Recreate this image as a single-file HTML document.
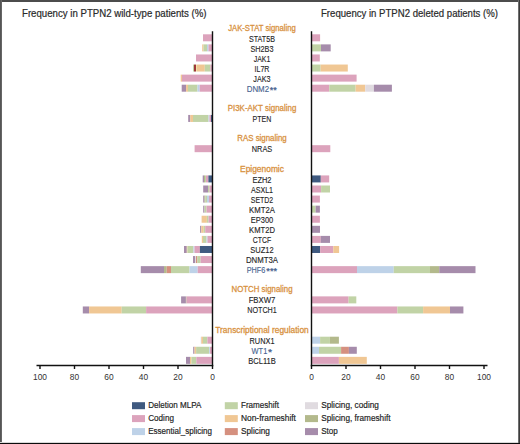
<!DOCTYPE html><html><head><meta charset="utf-8"><style>html,body{margin:0;padding:0;background:#fff;}svg{display:block;font-family:"Liberation Sans",sans-serif;}</style></head><body>
<svg width="520" height="444" viewBox="0 0 520 444">
<rect x="0" y="0" width="520" height="444" fill="#fff"/>
<rect x="203.00" y="34.30" width="9.50" height="7.00" fill="#dca3bc"/>
<rect x="202.20" y="44.38" width="1.30" height="7.00" fill="#f0c794"/>
<rect x="203.50" y="44.38" width="3.50" height="7.00" fill="#c1d3a6"/>
<rect x="207.00" y="44.38" width="1.50" height="7.00" fill="#bed2e8"/>
<rect x="208.50" y="44.38" width="4.00" height="7.00" fill="#dca3bc"/>
<rect x="196.00" y="54.46" width="16.50" height="7.00" fill="#dca3bc"/>
<rect x="193.00" y="64.54" width="1.00" height="7.00" fill="#c1d3a6"/>
<rect x="194.00" y="64.54" width="2.00" height="7.00" fill="#9e3838"/>
<rect x="196.00" y="64.54" width="1.00" height="7.00" fill="#f3e0a8"/>
<rect x="197.00" y="64.54" width="7.80" height="7.00" fill="#f0c794"/>
<rect x="204.80" y="64.54" width="5.70" height="7.00" fill="#c1d3a6"/>
<rect x="210.50" y="64.54" width="2.00" height="7.00" fill="#dca3bc"/>
<rect x="180.70" y="74.62" width="1.30" height="7.00" fill="#f0c794"/>
<rect x="182.00" y="74.62" width="30.50" height="7.00" fill="#dca3bc"/>
<rect x="181.70" y="84.70" width="4.40" height="7.00" fill="#a68cab"/>
<rect x="186.10" y="84.70" width="1.90" height="7.00" fill="#f0c794"/>
<rect x="188.00" y="84.70" width="9.50" height="7.00" fill="#c1d3a6"/>
<rect x="197.50" y="84.70" width="2.20" height="7.00" fill="#bed2e8"/>
<rect x="199.70" y="84.70" width="12.80" height="7.00" fill="#dca3bc"/>
<rect x="188.20" y="114.94" width="2.10" height="7.00" fill="#a68cab"/>
<rect x="190.30" y="114.94" width="2.70" height="7.00" fill="#f0c794"/>
<rect x="193.00" y="114.94" width="15.50" height="7.00" fill="#c1d3a6"/>
<rect x="208.50" y="114.94" width="1.00" height="7.00" fill="#bed2e8"/>
<rect x="209.50" y="114.94" width="1.50" height="7.00" fill="#dca3bc"/>
<rect x="211.00" y="114.94" width="1.50" height="7.00" fill="#3f5a80"/>
<rect x="194.60" y="145.18" width="17.90" height="7.00" fill="#dca3bc"/>
<rect x="202.70" y="175.42" width="1.30" height="7.00" fill="#a68cab"/>
<rect x="204.00" y="175.42" width="1.00" height="7.00" fill="#b3b98c"/>
<rect x="205.00" y="175.42" width="1.00" height="7.00" fill="#c1d3a6"/>
<rect x="206.00" y="175.42" width="2.40" height="7.00" fill="#dca3bc"/>
<rect x="208.40" y="175.42" width="4.10" height="7.00" fill="#3f5a80"/>
<rect x="203.20" y="185.50" width="4.80" height="7.00" fill="#a68cab"/>
<rect x="208.00" y="185.50" width="1.50" height="7.00" fill="#c1d3a6"/>
<rect x="209.50" y="185.50" width="3.00" height="7.00" fill="#dca3bc"/>
<rect x="203.20" y="195.58" width="1.30" height="7.00" fill="#a68cab"/>
<rect x="204.50" y="195.58" width="1.00" height="7.00" fill="#b3b98c"/>
<rect x="205.50" y="195.58" width="1.50" height="7.00" fill="#c1d3a6"/>
<rect x="207.00" y="195.58" width="2.00" height="7.00" fill="#bed2e8"/>
<rect x="209.00" y="195.58" width="3.50" height="7.00" fill="#dca3bc"/>
<rect x="203.20" y="205.66" width="1.30" height="7.00" fill="#a68cab"/>
<rect x="204.50" y="205.66" width="2.00" height="7.00" fill="#c1d3a6"/>
<rect x="206.50" y="205.66" width="6.00" height="7.00" fill="#dca3bc"/>
<rect x="201.60" y="215.74" width="5.30" height="7.00" fill="#f0c794"/>
<rect x="206.90" y="215.74" width="1.60" height="7.00" fill="#c1d3a6"/>
<rect x="208.50" y="215.74" width="4.00" height="7.00" fill="#dca3bc"/>
<rect x="200.10" y="225.82" width="1.20" height="7.00" fill="#a68cab"/>
<rect x="201.30" y="225.82" width="2.40" height="7.00" fill="#f0c794"/>
<rect x="203.70" y="225.82" width="1.50" height="7.00" fill="#c1d3a6"/>
<rect x="205.20" y="225.82" width="7.30" height="7.00" fill="#dca3bc"/>
<rect x="201.80" y="235.90" width="1.20" height="7.00" fill="#f0c794"/>
<rect x="203.00" y="235.90" width="3.50" height="7.00" fill="#c1d3a6"/>
<rect x="206.50" y="235.90" width="1.00" height="7.00" fill="#bed2e8"/>
<rect x="207.50" y="235.90" width="5.00" height="7.00" fill="#dca3bc"/>
<rect x="184.00" y="245.98" width="2.80" height="7.00" fill="#a68cab"/>
<rect x="186.80" y="245.98" width="0.70" height="7.00" fill="#f0c794"/>
<rect x="187.50" y="245.98" width="5.90" height="7.00" fill="#c1d3a6"/>
<rect x="193.40" y="245.98" width="1.10" height="7.00" fill="#bed2e8"/>
<rect x="194.50" y="245.98" width="5.40" height="7.00" fill="#dca3bc"/>
<rect x="199.90" y="245.98" width="12.60" height="7.00" fill="#3f5a80"/>
<rect x="193.00" y="256.06" width="2.00" height="7.00" fill="#a68cab"/>
<rect x="195.00" y="256.06" width="1.00" height="7.00" fill="#e0dbe0"/>
<rect x="196.00" y="256.06" width="1.30" height="7.00" fill="#d5907f"/>
<rect x="197.30" y="256.06" width="3.30" height="7.00" fill="#c1d3a6"/>
<rect x="200.60" y="256.06" width="11.90" height="7.00" fill="#dca3bc"/>
<rect x="140.80" y="266.14" width="23.20" height="7.00" fill="#a68cab"/>
<rect x="164.00" y="266.14" width="2.70" height="7.00" fill="#b3b98c"/>
<rect x="166.70" y="266.14" width="4.30" height="7.00" fill="#d5907f"/>
<rect x="171.00" y="266.14" width="18.50" height="7.00" fill="#c1d3a6"/>
<rect x="189.50" y="266.14" width="8.20" height="7.00" fill="#bed2e8"/>
<rect x="197.70" y="266.14" width="14.80" height="7.00" fill="#dca3bc"/>
<rect x="181.10" y="296.38" width="4.80" height="7.00" fill="#a68cab"/>
<rect x="185.90" y="296.38" width="0.60" height="7.00" fill="#b3b98c"/>
<rect x="186.50" y="296.38" width="26.00" height="7.00" fill="#dca3bc"/>
<rect x="82.80" y="306.46" width="6.30" height="7.00" fill="#a68cab"/>
<rect x="89.10" y="306.46" width="32.60" height="7.00" fill="#f0c794"/>
<rect x="121.70" y="306.46" width="24.40" height="7.00" fill="#c1d3a6"/>
<rect x="146.10" y="306.46" width="66.40" height="7.00" fill="#dca3bc"/>
<rect x="200.80" y="336.70" width="0.50" height="7.00" fill="#bed2e8"/>
<rect x="201.30" y="336.70" width="1.70" height="7.00" fill="#f0c794"/>
<rect x="203.00" y="336.70" width="4.40" height="7.00" fill="#c1d3a6"/>
<rect x="207.40" y="336.70" width="5.10" height="7.00" fill="#dca3bc"/>
<rect x="193.20" y="346.78" width="1.30" height="7.00" fill="#a68cab"/>
<rect x="194.50" y="346.78" width="1.60" height="7.00" fill="#f0c794"/>
<rect x="196.10" y="346.78" width="13.10" height="7.00" fill="#c1d3a6"/>
<rect x="209.20" y="346.78" width="0.80" height="7.00" fill="#bed2e8"/>
<rect x="210.00" y="346.78" width="2.50" height="7.00" fill="#dca3bc"/>
<rect x="186.00" y="356.86" width="4.00" height="7.00" fill="#a68cab"/>
<rect x="190.00" y="356.86" width="1.50" height="7.00" fill="#f0c794"/>
<rect x="191.50" y="356.86" width="4.80" height="7.00" fill="#c1d3a6"/>
<rect x="196.30" y="356.86" width="16.20" height="7.00" fill="#dca3bc"/>
<rect x="311.50" y="34.30" width="8.60" height="7.00" fill="#dca3bc"/>
<rect x="311.50" y="44.38" width="9.50" height="7.00" fill="#c1d3a6"/>
<rect x="321.00" y="44.38" width="9.70" height="7.00" fill="#a68cab"/>
<rect x="311.50" y="54.46" width="8.30" height="7.00" fill="#dca3bc"/>
<rect x="311.50" y="64.54" width="9.10" height="7.00" fill="#c1d3a6"/>
<rect x="320.60" y="64.54" width="27.20" height="7.00" fill="#f0c794"/>
<rect x="311.50" y="74.62" width="45.10" height="7.00" fill="#dca3bc"/>
<rect x="311.50" y="84.70" width="17.80" height="7.00" fill="#dca3bc"/>
<rect x="329.30" y="84.70" width="26.30" height="7.00" fill="#c1d3a6"/>
<rect x="355.60" y="84.70" width="9.70" height="7.00" fill="#f0c794"/>
<rect x="365.30" y="84.70" width="8.60" height="7.00" fill="#e0dbe0"/>
<rect x="373.90" y="84.70" width="18.00" height="7.00" fill="#a68cab"/>
<rect x="311.50" y="145.18" width="18.80" height="7.00" fill="#dca3bc"/>
<rect x="311.50" y="175.42" width="9.30" height="7.00" fill="#3f5a80"/>
<rect x="320.80" y="175.42" width="8.40" height="7.00" fill="#dca3bc"/>
<rect x="311.50" y="185.50" width="9.60" height="7.00" fill="#dca3bc"/>
<rect x="321.10" y="185.50" width="8.90" height="7.00" fill="#c1d3a6"/>
<rect x="311.50" y="195.58" width="8.40" height="7.00" fill="#dca3bc"/>
<rect x="311.50" y="205.66" width="4.20" height="7.00" fill="#c1d3a6"/>
<rect x="315.70" y="205.66" width="4.20" height="7.00" fill="#a68cab"/>
<rect x="311.50" y="215.74" width="8.40" height="7.00" fill="#dca3bc"/>
<rect x="311.50" y="225.82" width="8.50" height="7.00" fill="#a68cab"/>
<rect x="311.50" y="235.90" width="9.30" height="7.00" fill="#dca3bc"/>
<rect x="320.80" y="235.90" width="9.20" height="7.00" fill="#a68cab"/>
<rect x="311.50" y="245.98" width="8.70" height="7.00" fill="#3f5a80"/>
<rect x="320.20" y="245.98" width="13.10" height="7.00" fill="#dca3bc"/>
<rect x="333.30" y="245.98" width="5.80" height="7.00" fill="#f0c794"/>
<rect x="311.50" y="266.14" width="45.50" height="7.00" fill="#dca3bc"/>
<rect x="357.00" y="266.14" width="36.75" height="7.00" fill="#bed2e8"/>
<rect x="393.75" y="266.14" width="36.25" height="7.00" fill="#c1d3a6"/>
<rect x="430.00" y="266.14" width="9.25" height="7.00" fill="#b3b98c"/>
<rect x="439.25" y="266.14" width="36.25" height="7.00" fill="#a68cab"/>
<rect x="311.50" y="296.38" width="37.10" height="7.00" fill="#dca3bc"/>
<rect x="348.60" y="296.38" width="7.70" height="7.00" fill="#c1d3a6"/>
<rect x="311.50" y="306.46" width="85.90" height="7.00" fill="#dca3bc"/>
<rect x="397.40" y="306.46" width="25.70" height="7.00" fill="#c1d3a6"/>
<rect x="423.10" y="306.46" width="26.90" height="7.00" fill="#f0c794"/>
<rect x="450.00" y="306.46" width="13.40" height="7.00" fill="#a68cab"/>
<rect x="311.50" y="336.70" width="8.60" height="7.00" fill="#bed2e8"/>
<rect x="320.10" y="336.70" width="9.80" height="7.00" fill="#c1d3a6"/>
<rect x="329.90" y="336.70" width="9.00" height="7.00" fill="#b3b98c"/>
<rect x="311.50" y="346.78" width="7.50" height="7.00" fill="#bed2e8"/>
<rect x="319.00" y="346.78" width="22.10" height="7.00" fill="#c1d3a6"/>
<rect x="341.10" y="346.78" width="7.80" height="7.00" fill="#d5907f"/>
<rect x="348.90" y="346.78" width="7.90" height="7.00" fill="#a68cab"/>
<rect x="311.50" y="356.86" width="27.40" height="7.00" fill="#dca3bc"/>
<rect x="338.90" y="356.86" width="27.90" height="7.00" fill="#f0c794"/>
<g stroke="#111" stroke-width="1.4" fill="none">
<line x1="212.5" y1="31.2" x2="212.5" y2="366.2"/>
<line x1="311.5" y1="31.2" x2="311.5" y2="366.2"/>
<line x1="36.5" y1="365.5" x2="213.2" y2="365.5"/>
<line x1="310.8" y1="365.5" x2="487.5" y2="365.5"/>
<line x1="212.50" y1="365.5" x2="212.50" y2="369"/>
<line x1="311.50" y1="365.5" x2="311.50" y2="369"/>
<line x1="178.00" y1="365.5" x2="178.00" y2="369"/>
<line x1="346.00" y1="365.5" x2="346.00" y2="369"/>
<line x1="143.50" y1="365.5" x2="143.50" y2="369"/>
<line x1="380.50" y1="365.5" x2="380.50" y2="369"/>
<line x1="109.00" y1="365.5" x2="109.00" y2="369"/>
<line x1="415.00" y1="365.5" x2="415.00" y2="369"/>
<line x1="74.50" y1="365.5" x2="74.50" y2="369"/>
<line x1="449.50" y1="365.5" x2="449.50" y2="369"/>
<line x1="40.00" y1="365.5" x2="40.00" y2="369"/>
<line x1="484.00" y1="365.5" x2="484.00" y2="369"/>
</g>
<g font-size="8.4" fill="#333" text-anchor="middle">
<text x="212.50" y="379.9">0</text>
<text x="311.50" y="379.9">0</text>
<text x="178.00" y="379.9">20</text>
<text x="346.00" y="379.9">20</text>
<text x="143.50" y="379.9">40</text>
<text x="380.50" y="379.9">40</text>
<text x="109.00" y="379.9">60</text>
<text x="415.00" y="379.9">60</text>
<text x="74.50" y="379.9">80</text>
<text x="449.50" y="379.9">80</text>
<text x="40.00" y="379.9">100</text>
<text x="484.00" y="379.9">100</text>
</g>
<text x="228.15" y="30.74" font-size="8.4" fill="#d8923f" stroke="#d8923f" stroke-width="0.30" textLength="67.7" lengthAdjust="spacingAndGlyphs">JAK-STAT signaling</text>
<text x="249.00" y="41.80" font-size="8.4" fill="#1e1e1e" stroke="#1e1e1e" stroke-width="0.12" textLength="26.0" lengthAdjust="spacingAndGlyphs">STAT5B</text>
<text x="250.45" y="51.86" font-size="8.4" fill="#1e1e1e" stroke="#1e1e1e" stroke-width="0.12" textLength="23.1" lengthAdjust="spacingAndGlyphs">SH2B3</text>
<text x="253.65" y="61.92" font-size="8.4" fill="#1e1e1e" stroke="#1e1e1e" stroke-width="0.12" textLength="16.7" lengthAdjust="spacingAndGlyphs">JAK1</text>
<text x="254.55" y="71.98" font-size="8.4" fill="#1e1e1e" stroke="#1e1e1e" stroke-width="0.12" textLength="14.9" lengthAdjust="spacingAndGlyphs">IL7R</text>
<text x="253.35" y="82.04" font-size="8.4" fill="#1e1e1e" stroke="#1e1e1e" stroke-width="0.12" textLength="17.3" lengthAdjust="spacingAndGlyphs">JAK3</text>
<text x="246.70" y="92.10" font-size="8.4" fill="#46618e" stroke="#46618e" stroke-width="0.12" textLength="22.4" lengthAdjust="spacingAndGlyphs">DNM2</text>
<text x="269.70" y="93.40" font-size="9" fill="#46618e" stroke="#46618e" stroke-width="0.25" textLength="7.1" lengthAdjust="spacingAndGlyphs">**</text>
<text x="227.70" y="111.22" font-size="8.4" fill="#d8923f" stroke="#d8923f" stroke-width="0.30" textLength="68.6" lengthAdjust="spacingAndGlyphs">PI3K-AKT signaling</text>
<text x="252.60" y="122.28" font-size="8.4" fill="#1e1e1e" stroke="#1e1e1e" stroke-width="0.12" textLength="18.8" lengthAdjust="spacingAndGlyphs">PTEN</text>
<text x="237.30" y="141.40" font-size="8.4" fill="#d8923f" stroke="#d8923f" stroke-width="0.30" textLength="49.4" lengthAdjust="spacingAndGlyphs">RAS signaling</text>
<text x="251.80" y="152.46" font-size="8.4" fill="#1e1e1e" stroke="#1e1e1e" stroke-width="0.12" textLength="20.4" lengthAdjust="spacingAndGlyphs">NRAS</text>
<text x="240.05" y="171.58" font-size="8.4" fill="#d8923f" stroke="#d8923f" stroke-width="0.30" textLength="43.9" lengthAdjust="spacingAndGlyphs">Epigenomic</text>
<text x="252.45" y="182.64" font-size="8.4" fill="#1e1e1e" stroke="#1e1e1e" stroke-width="0.12" textLength="19.1" lengthAdjust="spacingAndGlyphs">EZH2</text>
<text x="250.90" y="192.70" font-size="8.4" fill="#1e1e1e" stroke="#1e1e1e" stroke-width="0.12" textLength="22.2" lengthAdjust="spacingAndGlyphs">ASXL1</text>
<text x="250.75" y="202.76" font-size="8.4" fill="#1e1e1e" stroke="#1e1e1e" stroke-width="0.12" textLength="22.5" lengthAdjust="spacingAndGlyphs">SETD2</text>
<text x="249.05" y="212.82" font-size="8.4" fill="#1e1e1e" stroke="#1e1e1e" stroke-width="0.12" textLength="25.9" lengthAdjust="spacingAndGlyphs">KMT2A</text>
<text x="250.75" y="222.88" font-size="8.4" fill="#1e1e1e" stroke="#1e1e1e" stroke-width="0.12" textLength="22.5" lengthAdjust="spacingAndGlyphs">EP300</text>
<text x="249.05" y="232.94" font-size="8.4" fill="#1e1e1e" stroke="#1e1e1e" stroke-width="0.12" textLength="25.9" lengthAdjust="spacingAndGlyphs">KMT2D</text>
<text x="252.80" y="243.00" font-size="8.4" fill="#1e1e1e" stroke="#1e1e1e" stroke-width="0.12" textLength="18.4" lengthAdjust="spacingAndGlyphs">CTCF</text>
<text x="250.30" y="253.06" font-size="8.4" fill="#1e1e1e" stroke="#1e1e1e" stroke-width="0.12" textLength="23.4" lengthAdjust="spacingAndGlyphs">SUZ12</text>
<text x="245.90" y="263.12" font-size="8.4" fill="#1e1e1e" stroke="#1e1e1e" stroke-width="0.12" textLength="32.2" lengthAdjust="spacingAndGlyphs">DNMT3A</text>
<text x="246.70" y="273.18" font-size="8.4" fill="#46618e" stroke="#46618e" stroke-width="0.12" textLength="18.6" lengthAdjust="spacingAndGlyphs">PHF6</text>
<text x="266.30" y="274.48" font-size="9" fill="#46618e" stroke="#46618e" stroke-width="0.25" textLength="10.8" lengthAdjust="spacingAndGlyphs">***</text>
<text x="231.50" y="292.30" font-size="8.4" fill="#d8923f" stroke="#d8923f" stroke-width="0.30" textLength="61.0" lengthAdjust="spacingAndGlyphs">NOTCH signaling</text>
<text x="248.65" y="303.36" font-size="8.4" fill="#1e1e1e" stroke="#1e1e1e" stroke-width="0.12" textLength="26.7" lengthAdjust="spacingAndGlyphs">FBXW7</text>
<text x="247.20" y="313.42" font-size="8.4" fill="#1e1e1e" stroke="#1e1e1e" stroke-width="0.12" textLength="29.6" lengthAdjust="spacingAndGlyphs">NOTCH1</text>
<text x="215.30" y="332.54" font-size="8.4" fill="#d8923f" stroke="#d8923f" stroke-width="0.30" textLength="93.4" lengthAdjust="spacingAndGlyphs">Transcriptional regulation</text>
<text x="249.50" y="343.60" font-size="8.4" fill="#1e1e1e" stroke="#1e1e1e" stroke-width="0.12" textLength="25.0" lengthAdjust="spacingAndGlyphs">RUNX1</text>
<text x="251.60" y="353.66" font-size="8.4" fill="#46618e" stroke="#46618e" stroke-width="0.12" textLength="15.7" lengthAdjust="spacingAndGlyphs">WT1</text>
<text x="267.90" y="354.96" font-size="9" fill="#46618e" stroke="#46618e" stroke-width="0.25" textLength="4.1" lengthAdjust="spacingAndGlyphs">*</text>
<text x="248.20" y="363.72" font-size="8.4" fill="#1e1e1e" stroke="#1e1e1e" stroke-width="0.12" textLength="27.6" lengthAdjust="spacingAndGlyphs">BCL11B</text>
<text x="22" y="16.8" font-size="10.1" fill="#2a2a2a" stroke="#2a2a2a" stroke-width="0.2" textLength="184.5" lengthAdjust="spacingAndGlyphs">Frequency in PTPN2 wild-type patients (%)</text>
<text x="321" y="16.8" font-size="10.1" fill="#2a2a2a" stroke="#2a2a2a" stroke-width="0.2" textLength="177" lengthAdjust="spacingAndGlyphs">Frequency in PTPN2 deleted patients (%)</text>
<rect x="132.0" y="402.2" width="13" height="7" fill="#3f5a80"/>
<text x="148.2" y="408.4" font-size="9.2" fill="#222" stroke="#222" stroke-width="0.18" textLength="53.1" lengthAdjust="spacingAndGlyphs">Deletion MLPA</text>
<rect x="132.0" y="415.1" width="13" height="7" fill="#dca3bc"/>
<text x="148.2" y="421.3" font-size="9.2" fill="#222" stroke="#222" stroke-width="0.18" textLength="25.8" lengthAdjust="spacingAndGlyphs">Coding</text>
<rect x="132.0" y="428.1" width="13" height="7" fill="#bed2e8"/>
<text x="148.2" y="434.3" font-size="9.2" fill="#222" stroke="#222" stroke-width="0.18" textLength="63.8" lengthAdjust="spacingAndGlyphs">Essential_splicing</text>
<rect x="224.8" y="402.2" width="13" height="7" fill="#c1d3a6"/>
<text x="241.0" y="408.4" font-size="9.2" fill="#222" stroke="#222" stroke-width="0.18" textLength="38.1" lengthAdjust="spacingAndGlyphs">Frameshift</text>
<rect x="224.8" y="415.1" width="13" height="7" fill="#f0c794"/>
<text x="241.0" y="421.3" font-size="9.2" fill="#222" stroke="#222" stroke-width="0.18" textLength="54.9" lengthAdjust="spacingAndGlyphs">Non-frameshift</text>
<rect x="224.8" y="428.1" width="13" height="7" fill="#d5907f"/>
<text x="241.0" y="434.3" font-size="9.2" fill="#222" stroke="#222" stroke-width="0.18" textLength="28.9" lengthAdjust="spacingAndGlyphs">Splicing</text>
<rect x="305.0" y="402.2" width="13" height="7" fill="#e0dbe0"/>
<text x="321.2" y="408.4" font-size="9.2" fill="#222" stroke="#222" stroke-width="0.18" textLength="57.7" lengthAdjust="spacingAndGlyphs">Splicing, coding</text>
<rect x="305.0" y="415.1" width="13" height="7" fill="#b3b98c"/>
<text x="321.2" y="421.3" font-size="9.2" fill="#222" stroke="#222" stroke-width="0.18" textLength="69.4" lengthAdjust="spacingAndGlyphs">Splicing, frameshift</text>
<rect x="305.0" y="428.1" width="13" height="7" fill="#a68cab"/>
<text x="321.2" y="434.3" font-size="9.2" fill="#222" stroke="#222" stroke-width="0.18" textLength="16.6" lengthAdjust="spacingAndGlyphs">Stop</text>
<rect x="0" y="0" width="520" height="2" fill="#4c4c4c"/>
<rect x="0" y="0" width="1" height="444" fill="#555"/>
<rect x="1" y="0" width="1" height="444" fill="#666"/>
<rect x="518" y="0" width="1" height="444" fill="#6e6e6e"/>
<rect x="519" y="0" width="1" height="444" fill="#3c3c3c"/>
<rect x="0" y="443" width="520" height="1" fill="#0c0c0c"/>
<rect x="0" y="442" width="518" height="1" fill="#d8d8d8"/>
</svg></body></html>
